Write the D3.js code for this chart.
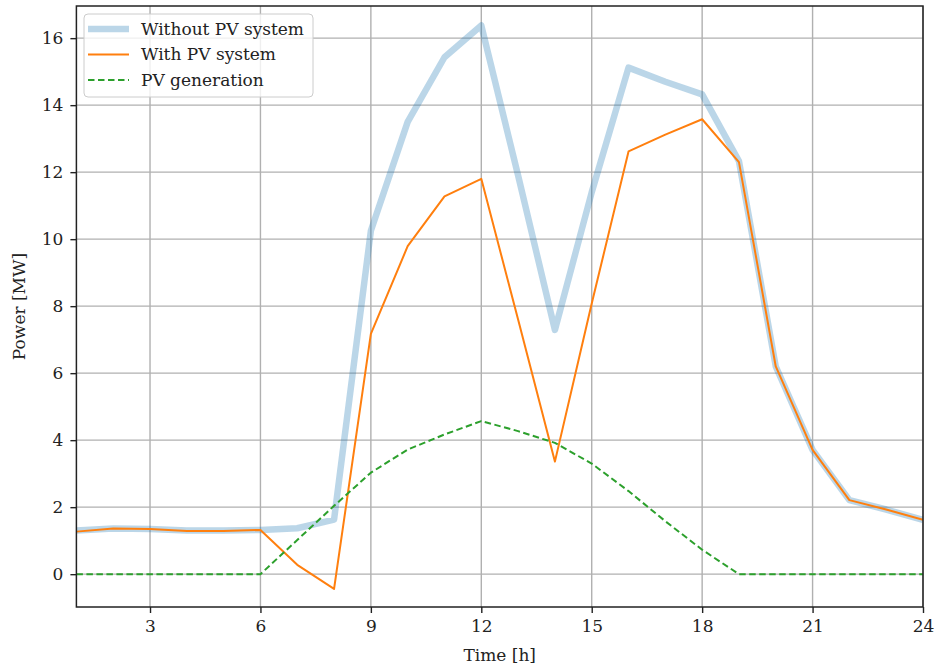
<!DOCTYPE html>
<html>
<head>
<meta charset="utf-8">
<script src="https://cdn.jsdelivr.net/npm/d3@7"></script>
<style>
  body { margin: 0; background: #fff; }
  svg text { font-family: "DejaVu Serif", serif; fill: #222; }
</style>
</head>
<body>
<svg id="chart" width="935" height="665"></svg>
<script>
// hours of the day
var hours = d3.range(1, 25)

// load without PV [MW]
var withoutPV = [1.30, 1.36, 1.35, 1.30, 1.30, 1.32, 1.37, 1.63, 10.25, 13.5, 15.43, 16.38,
                 11.9, 7.29, 11.4, 15.12, 14.7, 14.32, 12.33, 6.2, 3.71, 2.21, 1.93, 1.62]
// load with PV [MW]
var withPV = [1.27, 1.36, 1.35, 1.29, 1.29, 1.32, 0.28, -0.44, 7.17, 9.79, 11.28, 11.8,
              7.6, 3.36, 8.08, 12.62, 13.12, 13.58, 12.3, 6.2, 3.71, 2.21, 1.93, 1.62]
// PV generation [MW]
var pvGen = [0, 0, 0, 0, 0, 0, 1.02, 2.04, 3.03, 3.72, 4.17, 4.57,
             4.27, 3.92, 3.3, 2.48, 1.58, 0.73, 0, 0, 0, 0, 0, 0]

var xTicks = [3, 6, 9, 12, 15, 18, 21, 24]
var yTicks = [0, 2, 4, 6, 8, 10, 12, 14, 16]

var series = [
  {name: "Without PV system", values: withoutPV, color: "#1f77b4", width: 6.5, opacity: 0.3, dash: null},
  {name: "With PV system", values: withPV, color: "#ff7f0e", width: 2, opacity: 1, dash: null},
  {name: "PV generation", values: pvGen, color: "#2ca02c", width: 2, opacity: 1, dash: "6.5,3.5"}
]

var fontSize = 17
var margin = {left: 76.4, right: 12, top: 6, bottom: 58}
var width = 935, height = 665

var svg = d3.select("#chart")

var x = d3.scaleLinear().domain([1, 24]).range([margin.left, width - margin.right])
var y = d3.scaleLinear().domain([-0.98, 16.96]).range([height - margin.bottom, margin.top])

// grid
svg.append("g").selectAll("line").data(xTicks).join("line")
  .attr("x1", d => x(d)).attr("x2", d => x(d))
  .attr("y1", y.range()[1]).attr("y2", y.range()[0])
  .attr("stroke", "#b0b0b0").attr("stroke-width", 1.4)
svg.append("g").selectAll("line").data(yTicks).join("line")
  .attr("y1", d => y(d)).attr("y2", d => y(d))
  .attr("x1", x.range()[0]).attr("x2", x.range()[1])
  .attr("stroke", "#b0b0b0").attr("stroke-width", 1.4)

// lines
var line = d3.line().x((d, i) => x(hours[i])).y(d => y(d))
svg.append("clipPath").attr("id", "clip").append("rect")
  .attr("x", x.range()[0]).attr("y", y.range()[1])
  .attr("width", x.range()[1] - x.range()[0]).attr("height", y.range()[0] - y.range()[1])

svg.append("g").attr("clip-path", "url(#clip)")
  .selectAll("path").data(series).join("path")
  .attr("d", d => line(d.values))
  .attr("fill", "none")
  .attr("stroke", d => d.color)
  .attr("stroke-opacity", d => d.opacity)
  .attr("stroke-width", d => d.width)
  .attr("stroke-dasharray", d => d.dash)
  .attr("stroke-linejoin", "round")

// axes
svg.append("g")
  .attr("transform", "translate(0," + y.range()[0] + ")")
  .call(d3.axisBottom(x).tickValues(xTicks).tickSize(6).tickPadding(7))
svg.append("g")
  .attr("transform", "translate(" + x.range()[0] + ",0)")
  .call(d3.axisLeft(y).tickValues(yTicks).tickSize(6).tickPadding(7))

svg.selectAll(".domain").remove()
svg.selectAll(".tick line").attr("stroke", "#222").attr("stroke-width", 1.4)
svg.selectAll(".tick text").attr("font-size", fontSize).attr("font-family", "DejaVu Serif").attr("fill", "#222")

// frame
svg.append("rect")
  .attr("x", x.range()[0]).attr("y", y.range()[1])
  .attr("width", x.range()[1] - x.range()[0]).attr("height", y.range()[0] - y.range()[1])
  .attr("fill", "none").attr("stroke", "#222").attr("stroke-width", 1.5)

// axis labels
svg.append("text")
  .attr("x", (x.range()[0] + x.range()[1]) / 2).attr("y", 661)
  .attr("text-anchor", "middle").attr("font-size", fontSize)
  .text("Time [h]")
svg.append("text")
  .attr("transform", "translate(25," + (y.range()[0] + y.range()[1]) / 2 + ") rotate(-90)")
  .attr("text-anchor", "middle").attr("font-size", fontSize)
  .text("Power [MW]")

// legend
var legend = svg.append("g").attr("transform", "translate(84,14)")
legend.append("rect")
  .attr("width", 229).attr("height", 83).attr("rx", 4)
  .attr("fill", "#fff").attr("fill-opacity", 0.8)
  .attr("stroke", "#ccc").attr("stroke-width", 1)
var item = legend.selectAll("g.item").data(series).join("g")
  .attr("class", "item")
  .attr("transform", (d, i) => "translate(0," + (15 + i * 25.5) + ")")
item.append("line")
  .attr("x1", 4).attr("x2", 45)
  .attr("stroke", d => d.color)
  .attr("stroke-opacity", d => d.opacity)
  .attr("stroke-width", d => d.width)
  .attr("stroke-dasharray", d => d.dash)
item.append("text")
  .attr("x", 57).attr("dy", "0.35em")
  .attr("font-size", fontSize)
  .text(d => d.name)
</script>
</body>
</html>
